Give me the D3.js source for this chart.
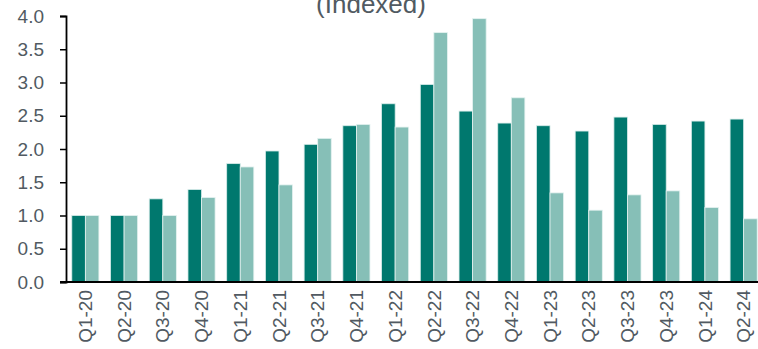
<!DOCTYPE html>
<html>
<head>
<meta charset="utf-8">
<script src="https://cdn.jsdelivr.net/npm/d3@7"></script>
<style>
  html, body { margin: 0; padding: 0; background: #fff; overflow: hidden; }
  svg { display: block; }
  text { font-family: "Liberation Sans", Arial, sans-serif; }
</style>
</head>
<body>
<svg id="chart" width="758" height="349"></svg>
<script>
const categories = ["Q1-20","Q2-20","Q3-20","Q4-20","Q1-21","Q2-21","Q3-21","Q4-21","Q1-22","Q2-22","Q3-22","Q4-22","Q1-23","Q2-23","Q3-23","Q4-23","Q1-24","Q2-24"];
const seriesDark  = [1.00,1.00,1.25,1.39,1.78,1.97,2.07,2.35,2.68,2.97,2.57,2.39,2.35,2.27,2.48,2.37,2.42,2.45];
const seriesLight = [1.00,1.00,1.00,1.27,1.73,1.46,2.16,2.37,2.33,3.75,3.96,2.77,1.34,1.08,1.31,1.37,1.12,0.95];
const yTicks = [0,0.5,1.0,1.5,2.0,2.5,3.0,3.5,4.0];
const titleText = "(Indexed)";

const svg = d3.select("#chart");
const mLeft = 66, mRight = 763, mTop = 16, mBottom = 282;
const textColor = "#515a62";
const darkColor = "#00786e";
const lightColor = "#86bfb7";

const x = d3.scaleBand().domain(categories).range([mLeft, mRight]).paddingInner(0.30).paddingOuter(0.15);
const y = d3.scaleLinear().domain([0, 4]).range([mBottom, mTop]);
const xs = d3.scaleBand().domain(["dark","light"]).range([0, x.bandwidth()]);

// title
svg.append("text").attr("x", 371).attr("y", 12.5).attr("text-anchor", "middle")
  .attr("font-size", 26).attr("fill", textColor).text(titleText);

// bars
const g = svg.append("g");
const rows = categories.map((c, i) => ({c, dark: seriesDark[i], light: seriesLight[i]}));
const grp = g.selectAll("g.grp").data(rows).enter().append("g")
  .attr("transform", d => `translate(${x(d.c)},0)`);
grp.append("rect").attr("x", xs("dark")).attr("width", xs.bandwidth())
  .attr("y", d => y(d.dark)).attr("height", d => y(0) - y(d.dark))
  .attr("fill", darkColor).attr("stroke", "#d8ecea").attr("stroke-width", 0.8);
grp.append("rect").attr("x", xs("light")).attr("width", xs.bandwidth())
  .attr("y", d => y(d.light)).attr("height", d => y(0) - y(d.light))
  .attr("fill", lightColor).attr("stroke", "#e4f2f0").attr("stroke-width", 0.8);

// y axis
const yAxis = d3.axisLeft(y).tickValues(yTicks).tickFormat(d3.format(".1f")).tickSize(6).tickPadding(16);
const ya = svg.append("g").attr("transform", `translate(${mLeft},0)`).call(yAxis);
ya.select(".domain").attr("stroke", "#000").attr("stroke-width", 1.8);
ya.selectAll(".tick line").attr("stroke", "#000").attr("stroke-width", 1.5);
ya.selectAll(".tick text").attr("font-size", 19).attr("fill", textColor)
  .attr("font-family", "Liberation Sans, Arial, sans-serif");

// x axis
const xAxis = d3.axisBottom(x).tickSize(0).tickPadding(8);
const xa = svg.append("g").attr("transform", `translate(0,${mBottom})`).call(xAxis);
xa.select(".domain").remove();
xa.append("line").attr("x1", mLeft - 6).attr("x2", 758).attr("y1", 0).attr("y2", 0)
  .attr("stroke", "#000").attr("stroke-width", 1.8);
xa.selectAll(".tick text")
  .attr("font-size", 19).attr("fill", textColor)
  .attr("font-family", "Liberation Sans, Arial, sans-serif")
  .attr("transform", "rotate(-90)")
  .attr("text-anchor", "end")
  .attr("x", -8).attr("y", 0).attr("dy", "0.35em");
</script>
</body>
</html>
